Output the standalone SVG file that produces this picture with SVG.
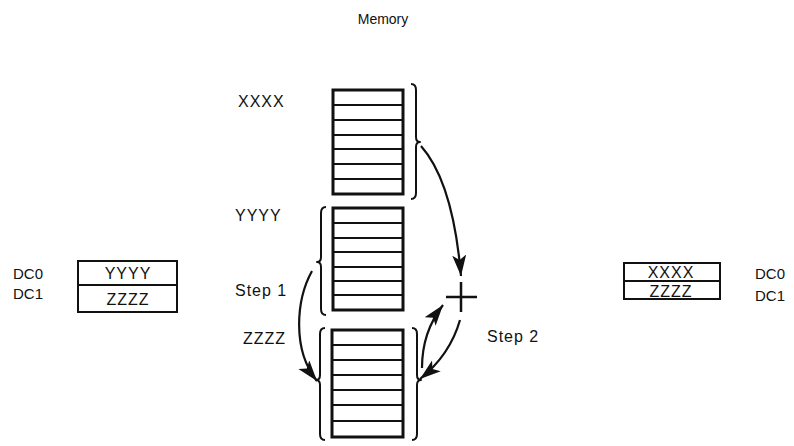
<svg xmlns="http://www.w3.org/2000/svg" width="794" height="446" viewBox="0 0 794 446">
<style>
text{font-family:"Liberation Sans",Arial,sans-serif;font-size:15px;fill:#111}
.w{font-size:16px;letter-spacing:1px}
.frame{fill:none;stroke:#111;stroke-width:3}
.row{stroke:#111;stroke-width:2}
.brace{fill:none;stroke:#111;stroke-width:2;stroke-linejoin:round}
.arr{fill:none;stroke:#111;stroke-width:2.2;marker-end:url(#ah)}
.box{fill:none;stroke:#111;stroke-width:2}
</style>
<defs>
<marker id="ah" markerUnits="userSpaceOnUse" markerWidth="26" markerHeight="16" refX="21" refY="7" orient="auto">
<path d="M0,0 L21,7 L0,14 L5,7 Z" fill="#111"/>
</marker>
</defs>
<rect width="794" height="446" fill="#fff"/>
<text x="383" y="24" text-anchor="middle" style="font-size:14px">Memory</text>

<g id="mem-top">
<rect class="frame" x="333" y="90" width="70" height="104"/>
<path class="row" d="M333,105H403M333,120H403M333,135H403M333,149H403M333,164H403M333,179H403"/>
<path class="brace" d="M411,84 Q416,84 416,90 L416,137 Q416,142 420,142 Q416,142 416,147 L416,193 Q416,199 411,199"/>
<text class="w" x="238" y="107">XXXX</text>
</g>

<g id="mem-mid">
<rect class="frame" x="333" y="208" width="70" height="102"/>
<path class="row" d="M333,223H403M333,238H403M333,252H403M333,267H403M333,281H403M333,295H403"/>
<path class="brace" d="M326,207 Q321,207 321,213 L321,257 Q321,262 317,262 Q321,262 321,267 L321,309 Q321,315 326,315"/>
<text class="w" x="235" y="221">YYYY</text>
</g>

<g id="mem-bot">
<rect class="frame" x="332" y="330" width="71" height="107"/>
<path class="row" d="M332,345H403M332,360H403M332,375H403M332,390H403M332,405H403M332,421H403"/>
<path class="brace" d="M325,328 Q320,328 320,334 L320,375 Q320,380 316,380 Q320,380 320,385 L320,434 Q320,440 325,440"/>
<path class="brace" d="M412,328 Q417,328 417,334 L417,375 Q417,380 421,380 Q417,380 417,385 L417,434 Q417,440 412,440"/>
<text class="w" x="243" y="344">ZZZZ</text>
</g>

<g id="plus">
<path d="M446,297H477M461,282V312" stroke="#111" stroke-width="2.5" fill="none"/>
</g>

<g id="dc-left">
<rect class="box" x="78" y="261" width="99" height="51"/>
<line class="row" x1="78" y1="285" x2="177" y2="285"/>
<text class="w" x="128" y="279" text-anchor="middle">YYYY</text>
<text class="w" x="128" y="305" text-anchor="middle">ZZZZ</text>
<text x="13" y="279">DC0</text>
<text x="13" y="299">DC1</text>
</g>

<g id="dc-right">
<rect class="box" x="624" y="263" width="96" height="36"/>
<line class="row" x1="624" y1="281" x2="720" y2="281"/>
<text class="w" x="671" y="278" text-anchor="middle">XXXX</text>
<text class="w" x="671" y="297" text-anchor="middle">ZZZZ</text>
<text x="755" y="279">DC0</text>
<text x="755" y="301">DC1</text>
</g>

<g id="labels">
<text class="w" x="235" y="296">Step 1</text>
<text class="w" x="487" y="342">Step 2</text>
</g>

<g id="connectors">
<path class="arr" d="M421,146 Q453,182 461,276"/>
<path class="arr" d="M312,271 C296,300 292,350 317,381"/>
<path class="arr" d="M422,368 Q422,332 443,305"/>
<path class="arr" d="M460,320 Q450,355 420,379"/>
</g>
</svg>
